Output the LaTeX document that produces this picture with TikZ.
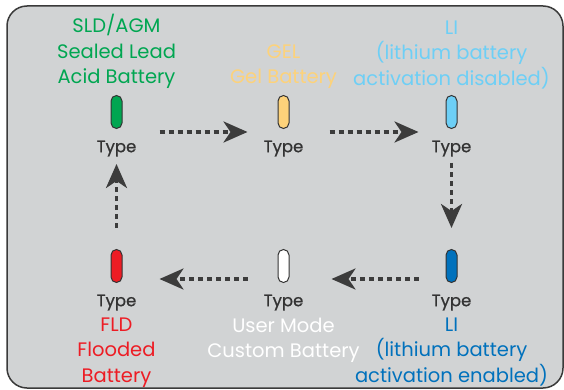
\documentclass[tikz,border=0pt]{standalone}
\usepackage{fontspec}
\setmainfont{Poppins}
\newfontfamily\tagfont{Poppins}[FakeBold=0.8]
\usetikzlibrary{arrows.meta,positioning}

\definecolor{panelgray}{HTML}{D1D3D4}
\definecolor{rimgray}{HTML}{3A3A3A}
\definecolor{ledrim}{HTML}{333333}
\definecolor{typegray}{HTML}{333333}
\definecolor{flowgray}{HTML}{3C3C3C}
\definecolor{sldgreen}{HTML}{00A651}
\definecolor{gelyellow}{HTML}{FDD27A}
\definecolor{lightblue}{HTML}{6DCFF6}
\definecolor{deepblue}{HTML}{0071BC}
\definecolor{fldred}{HTML}{ED1C24}

\begin{document}
\begin{tikzpicture}[x=1pt,y=-1pt,
		led/.style={draw=ledrim,line width=1pt,rounded corners=5.5pt,minimum width=11pt,minimum height=33pt,inner sep=0pt},
		typetag/.style={text=typegray,font=\tagfont\fontsize{16.5}{18}\selectfont,inner sep=0pt},
		batname/.style={font=\fontsize{19.5}{25.5}\selectfont,align=center,inner sep=0pt},
		flow/.style={draw=flowgray,line width=3.5pt,dash pattern=on 5pt off 4pt,-{Stealth[length=24pt,width=21pt,inset=7pt]}}]
		\useasboundingbox (0,0) rectangle (564,390);
		\draw [draw=rimgray,line width=1.5pt,fill=panelgray,rounded corners=20pt] (7,6) rectangle (563,388);

		% indicator lights
		\node (sld) [led,fill=sldgreen] at (116.5,112) {};
		\node (gel) [led,fill=gelyellow] at (283.5,112) {};
		\node (lioff) [led,fill=lightblue] at (451.5,112) {};
		\node (fld) [led,fill=fldred] at (116.5,266) {};
		\node (user) [led,fill=white] at (283.5,266) {};
		\node (lion) [led,fill=deepblue] at (451.5,266) {};

		% type tags
		\node (sld-type) [typetag,below=11.5pt of sld] {Type};
		\node (gel-type) [typetag,below=11.5pt of gel] {Type};
		\node (lioff-type) [typetag,below=11.5pt of lioff] {Type};
		\node (fld-type) [typetag,below=11.5pt of fld] {Type};
		\node (user-type) [typetag,below=11.5pt of user] {Type};
		\node (lion-type) [typetag,below=11.5pt of lion] {Type};

		% battery names
		\node (sld-name) [batname,text=sldgreen,above=6pt of sld] {SLD/AGM\\Sealed Lead\\Acid Battery};
		\node (gel-name) [batname,text=gelyellow,above=6pt of gel] {GEL\\Gel Battery};
		\node (lioff-name) [batname,text=lightblue,above=6pt of lioff] {LI\\(lithium battery\\activation disabled)};
		\node (fld-name) [batname,text=fldred,below=7pt of fld-type] {FLD\\Flooded\\Battery};
		\node (user-name) [batname,text=white,below=7pt of user-type] {User Mode\\Custom Battery};
		\node (lion-name) [batname,text=deepblue,below=7pt of lion-type] {LI\\(lithium battery\\activation enabled)};

		% cycle
		\draw [flow] ([xshift=43pt,yshift=-3pt]sld.south) -- ([xshift=-36pt,yshift=-3pt]gel.south);
		\draw [flow] ([xshift=46pt,yshift=-3pt]gel.south) -- ([xshift=-33pt,yshift=-3pt]lioff.south);
		\draw [flow] ([yshift=-34pt]lioff.south) -- ([yshift=21pt]lion.north);
		\draw [flow] ([xshift=-33pt,yshift=4pt]lion.south) -- ([xshift=48pt,yshift=4pt]user.south);
		\draw [flow] ([xshift=-36pt,yshift=4pt]user.south) -- ([xshift=43pt,yshift=4pt]fld.south);
		\draw [flow] ([yshift=21pt]fld.north) -- ([yshift=-35pt]sld.south);
	\end{tikzpicture}
\end{document}
